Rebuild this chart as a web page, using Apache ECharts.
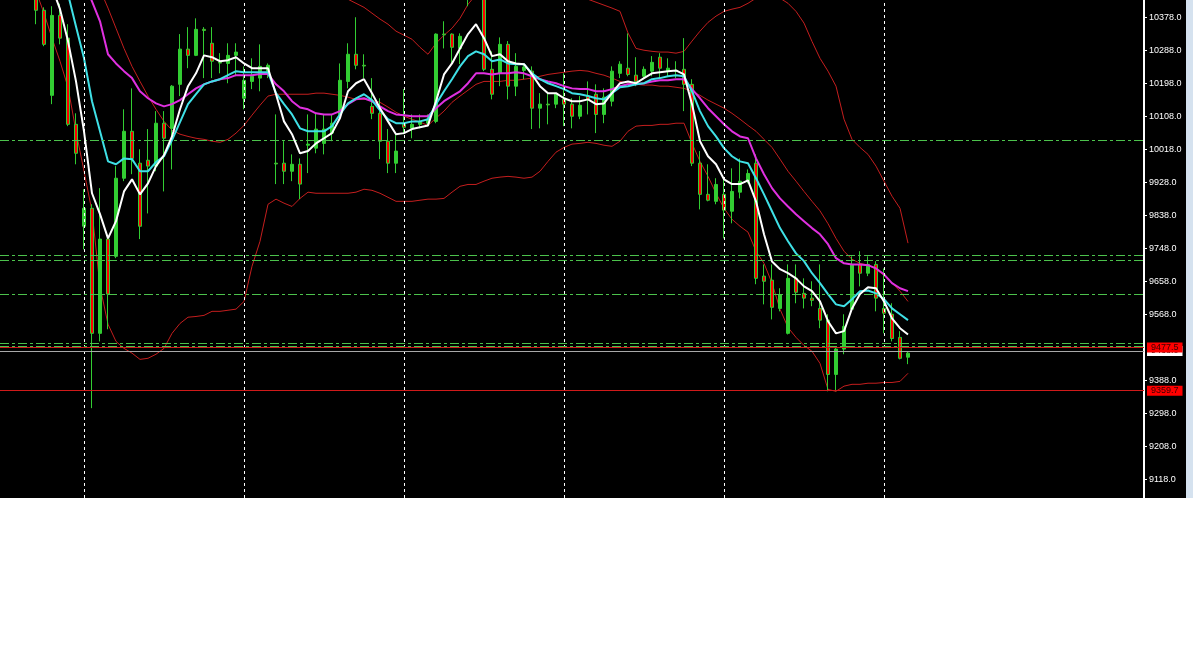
<!DOCTYPE html>
<html><head><meta charset="utf-8">
<script src="https://cdn.jsdelivr.net/npm/echarts@6/dist/echarts.min.js"></script>
<style>html,body{margin:0;padding:0;background:#fff;}#c{width:1193px;height:648px;}</style>
</head><body><div id="c"></div>
<script>
// ---- price data (one entry per bar, oldest first) ----
const opens = [
10520,10490,10500,10470,10445,10397,10165,10383,10321,10086,
9808,9857,9516,9773,9726,9939,10067,9980,9988,9972,
10089,10075,10195,10291,10274,10345,10307,10255,10252,10274,
10157,10203,10212,10231,9980,9980,9958,9977,10029,10021,
10034,10062,10113,10203,10277,10247,10135,10116,10040,9980,
10086,10075,10086,10089,10094,10332,10332,10293,10440,10470,
10490,10236,10225,10304,10190,10233,10231,10130,10141,10141,
10154,10141,10108,10163,10168,10113,10149,10225,10239,10220,
10217,10231,10269,10231,10233,10236,10195,9980,9895,9876,
9895,9849,9901,9931,9980,9672,9661,9584,9516,9666,
9625,9612,9584,9552,9404,9473,9582,9704,9680,9704,
9584,9568,9505,9451];
const closes = [
10490,10500,10470,10445,10397,10304,10383,10321,10086,10007,
9857,9516,9773,9623,9939,10067,9993,9808,9972,10089,
10048,10190,10291,10274,10345,10342,10258,10253,10274,10283,
10206,10217,10244,10247,9978,9958,9977,9923,10032,10073,
10073,10089,10206,10277,10247,10245,10116,10040,9980,10013,
10078,10086,10094,10100,10332,10330,10296,10326,10470,10490,
10236,10168,10304,10190,10244,10242,10130,10141,10139,10168,
10141,10108,10138,10154,10113,10160,10231,10250,10222,10203,
10236,10255,10239,10239,10231,10195,9980,9895,9879,9922,
9852,9903,9931,9952,9666,9658,9587,9622,9666,9628,
9612,9606,9552,9404,9473,9535,9704,9680,9704,9612,
9571,9502,9448,9462];
const lows = [
10470,10475,10450,10430,10359,10299,10141,10304,10081,9977,
9745,9312,9494,9527,9721,9931,9950,9773,9843,9958,
9903,9963,10163,10239,10272,10212,10212,10225,10198,10217,
10127,10182,10176,10212,9923,9923,9931,9882,9953,10007,
10004,10040,10100,10184,10236,10212,10100,9991,9953,9953,
10059,10048,10075,10081,10089,10293,10250,10250,10408,10450,
10231,10154,10190,10154,10163,10209,10073,10075,10086,10130,
10081,10075,10100,10113,10062,10089,10135,10212,10217,10190,
10212,10217,10212,10217,10212,10122,9972,9854,9876,9868,
9775,9816,9884,9925,9650,9595,9554,9576,9513,9598,
9584,9590,9530,9358,9358,9459,9576,9644,9672,9576,
9516,9494,9445,9432];
const highs = [
10540,10520,10515,10485,10455,10405,10408,10415,10359,10116,
9909,9868,9912,9778,9972,10127,10184,10018,10073,10122,
10122,10193,10332,10351,10375,10351,10351,10280,10307,10307,
10244,10266,10304,10252,10113,10040,10004,9993,10113,10116,
10113,10113,10252,10307,10378,10277,10212,10157,10073,10059,
10182,10113,10113,10113,10334,10367,10334,10334,10485,10505,
10500,10285,10323,10313,10280,10250,10244,10171,10171,10171,
10225,10157,10163,10203,10195,10184,10244,10258,10334,10269,
10244,10272,10280,10266,10258,10321,10209,10013,9977,9939,
9936,9966,9993,9963,10004,9704,9704,9639,9704,9704,
9666,9658,9704,9568,9481,9568,9726,9740,9726,9713,
9693,9598,9522,9467];

// ---- indicator lines ----
const maFast = [
null,null,null,10560,10530,10500,10460,10400,10313,10203,
10067,9898,9841,9775,9822,9903,9936,9895,9925,9972,
10002,10053,10127,10190,10225,10274,10269,10258,10261,10269,
10252,10239,10239,10239,10168,10094,10059,10007,10013,10034,
10048,10062,10103,10176,10198,10209,10171,10130,10094,10059,
10062,10073,10078,10083,10149,10222,10252,10293,10332,10359,
10321,10272,10277,10258,10252,10250,10222,10190,10171,10171,
10157,10149,10149,10154,10141,10143,10171,10198,10203,10198,
10212,10225,10228,10231,10233,10222,10141,10040,9999,9977,
9936,9923,9923,9933,9876,9786,9712,9691,9680,9666,
9644,9631,9603,9549,9516,9522,9584,9623,9642,9639,
9603,9557,9530,9513];
const maMid = [
null,null,null,null,null,10600,10560,10515,10441,10353,
10266,10149,10067,9985,9977,9993,9991,9958,9958,9983,
9999,10043,10092,10141,10168,10195,10203,10209,10220,10231,
10228,10228,10228,10228,10171,10141,10113,10075,10067,10067,
10067,10081,10113,10143,10157,10168,10152,10124,10100,10089,
10089,10094,10094,10100,10141,10176,10209,10244,10272,10285,
10277,10258,10263,10252,10250,10250,10225,10209,10198,10190,
10182,10171,10168,10163,10157,10154,10171,10187,10190,10195,
10198,10209,10212,10217,10220,10217,10176,10122,10081,10053,
10021,9999,9985,9980,9939,9895,9849,9803,9767,9734,
9713,9680,9653,9623,9595,9590,9609,9631,9633,9625,
9609,9584,9568,9552];
const maSlow = [
null,null,null,null,null,null,null,10620,10580,10530,
10476,10421,10367,10277,10252,10231,10212,10176,10157,10143,
10135,10141,10152,10168,10184,10195,10203,10209,10212,10220,
10220,10220,10223,10223,10195,10176,10149,10132,10127,10116,
10113,10113,10122,10141,10154,10157,10149,10135,10122,10113,
10111,10108,10108,10108,10130,10149,10163,10176,10198,10225,
10225,10222,10225,10225,10228,10225,10217,10209,10203,10198,
10190,10184,10182,10182,10176,10176,10182,10190,10195,10195,
10198,10203,10206,10206,10209,10209,10182,10157,10130,10108,
10086,10067,10053,10048,9993,9950,9912,9884,9862,9841,
9822,9803,9786,9759,9721,9707,9704,9704,9702,9693,
9677,9653,9639,9631];
const bbUpper = [
null,null,null,null,null,null,null,null,null,null,
null,null,null,null,null,null,null,null,null,null,
null,null,null,null,null,null,null,null,null,null,
null,null,null,null,null,null,null,null,10520,10500,
10480,10465,10450,10427,10416,10405,10389,10373,10359,10340,
10329,10318,10296,10277,10307,10329,10348,10375,10413,10440,
10470,10480,10490,10490,10490,10485,10480,10470,10460,10450,
10445,10440,10432,10427,10419,10411,10403,10394,10335,10293,
10288,10285,10283,10283,10280,10285,10313,10340,10364,10381,
10394,10400,10405,10416,10430,10440,10440,10430,10416,10394,
10362,10312,10266,10231,10190,10100,10045,10023,10004,9972,
9931,9890,9857,9762];
const bbMiddle = [
null,null,null,null,null,null,null,null,null,null,
10550,10500,10454,10403,10348,10293,10244,10203,10163,10127,
10094,10070,10059,10053,10048,10045,10040,10037,10045,10062,
10083,10111,10138,10163,10168,10168,10168,10168,10168,10171,
10171,10168,10165,10160,10154,10154,10152,10146,10133,10119,
10108,10100,10092,10083,10103,10122,10146,10163,10179,10195,
10203,10203,10203,10206,10206,10209,10212,10217,10222,10225,
10228,10231,10233,10231,10225,10220,10212,10203,10198,10195,
10193,10193,10190,10190,10187,10184,10176,10165,10152,10141,
10130,10116,10100,10083,10067,10045,10023,9991,9958,9931,
9903,9876,9850,9815,9775,9740,9718,9707,9702,9691,
9674,9653,9631,9603];
const bbLower = [
10570,10540,10510,10480,10449,10389,10321,10258,10187,10067,
9958,9849,9644,9541,9494,9475,9462,9445,9448,9459,
9475,9516,9543,9560,9562,9565,9576,9576,9579,9582,
9603,9699,9767,9868,9882,9871,9862,9884,9901,9898,
9898,9898,9898,9898,9901,9909,9906,9898,9887,9876,
9876,9876,9879,9882,9882,9884,9901,9917,9922,9922,
9931,9939,9942,9944,9942,9939,9942,9958,9985,10010,
10023,10032,10034,10037,10034,10029,10026,10040,10067,10081,
10083,10083,10086,10086,10089,10089,10034,9985,9944,9898,
9857,9827,9808,9792,9740,9707,9653,9582,9532,9505,
9483,9467,9434,9363,9358,9372,9377,9377,9380,9380,
9382,9382,9385,9407];

// ---- levels, separators and axis ticks ----
const greenLevels = [10043, 9729, 9715, 9622.5, 9489, 9481];
const redLevels = [9477.5, 9359.7];
const bidLevel = 9468;
const separatorBars = [10, 30, 50, 70, 90, 110];
const priceTicks = [10378, 10288, 10198, 10108, 10018, 9928, 9838, 9748, 9658, 9568, 9388, 9298, 9208, 9118];
const slotCount = 143; // bars plus empty right-hand shift area
const yMin = 9067, yMax = 10425;

const categories = Array.from({length: slotCount}, (_, i) => String(i + 1));
const candleData = opens.map((o, i) => [o, closes[i], lows[i], highs[i]]);

const chart = echarts.init(document.getElementById('c'), null, {renderer: 'canvas'});
const lineBase = {type: 'line', showSymbol: false, symbol: 'none', smooth: false, clip: true, connectNulls: false, animation: false};
const bandColor = '#c41e1e';

chart.setOption({
  animation: false,
  backgroundColor: '#ffffff',
  graphic: [
    {type: 'rect', silent: true, z: -100, shape: {x: 0, y: 0, width: 1186, height: 498}, style: {fill: '#000000'}},
    {type: 'rect', silent: true, z: -100, shape: {x: 1186, y: 0, width: 7, height: 498}, style: {fill: '#d5e2ef'}}
  ],
  grid: {left: 0, right: 49, top: 0, bottom: 150, containLabel: false},
  xAxis: {
    type: 'category', data: categories, boundaryGap: true,
    axisLine: {show: false}, axisTick: {show: false}, axisLabel: {show: false}, splitLine: {show: false}
  },
  yAxis: {
    type: 'value', position: 'right', min: yMin, max: yMax, scale: true,
    splitLine: {show: false},
    axisLine: {show: true, lineStyle: {color: '#ffffff', width: 2}},
    axisTick: {show: true, customValues: priceTicks, length: 3, lineStyle: {color: '#ffffff'}},
    axisLabel: {customValues: priceTicks, formatter: v => Number(v).toFixed(1), color: '#ffffff',
      fontSize: 9, fontFamily: 'Liberation Sans', margin: 5}
  },
  series: [
    Object.assign({}, lineBase, {
      name: 'BB upper', data: bbUpper, z: 2, lineStyle: {color: bandColor, width: 1},
      markLine: {
        silent: true, symbol: ['none', 'none'], animation: false,
        label: {show: false},
        data: separatorBars.map(b => ({xAxis: categories[b], lineStyle: {color: '#ffffff', type: [3, 3], width: 1}}))
          .concat(greenLevels.map(v => ({yAxis: v, lineStyle: {color: '#4cc24c', type: [9, 3, 3, 3], width: 1}})))
      }
    }),
    Object.assign({}, lineBase, {name: 'BB middle', data: bbMiddle, z: 2, lineStyle: {color: bandColor, width: 1}}),
    Object.assign({}, lineBase, {name: 'BB lower', data: bbLower, z: 2, lineStyle: {color: bandColor, width: 1},
      markLine: {
        silent: true, symbol: ['none', 'none'], animation: false,
        data: [{yAxis: bidLevel}],
        lineStyle: {color: '#a8a8a8', type: 'solid', width: 1},
        label: {show: true, position: 'end', distance: 3, formatter: p => Number(p.value).toFixed(1),
          backgroundColor: '#ffffff', color: '#000000', fontSize: 9, fontFamily: 'Liberation Sans', padding: [1, 4, 0, 4]}
      }
    }),
    {
      type: 'candlestick', name: 'Price', data: candleData, z: 3, clip: true, barWidth: 4, animation: false,
      itemStyle: {color: '#32cd32', color0: '#ff0000', borderColor: '#32cd32', borderColor0: '#32cd32', borderWidth: 1}
    },
    Object.assign({}, lineBase, {name: 'MA slow', data: maSlow, z: 4, lineStyle: {color: '#e030e0', width: 2}}),
    Object.assign({}, lineBase, {name: 'MA mid', data: maMid, z: 4, lineStyle: {color: '#3fe0e6', width: 2}}),
    Object.assign({}, lineBase, {name: 'MA fast', data: maFast, z: 5, lineStyle: {color: '#ffffff', width: 2},
      markLine: {
        silent: true, symbol: ['none', 'none'], animation: false,
        data: redLevels.map(v => ({yAxis: v})),
        lineStyle: {color: '#d01a1a', type: 'solid', width: 1},
        label: {show: true, position: 'end', distance: 3, formatter: p => Number(p.value).toFixed(1),
          backgroundColor: '#ff0000', color: '#3a0000', fontSize: 9, fontFamily: 'Liberation Sans', padding: [1, 4, 0, 4]}
      }
    })
  ]
});
</script>
</body></html>
